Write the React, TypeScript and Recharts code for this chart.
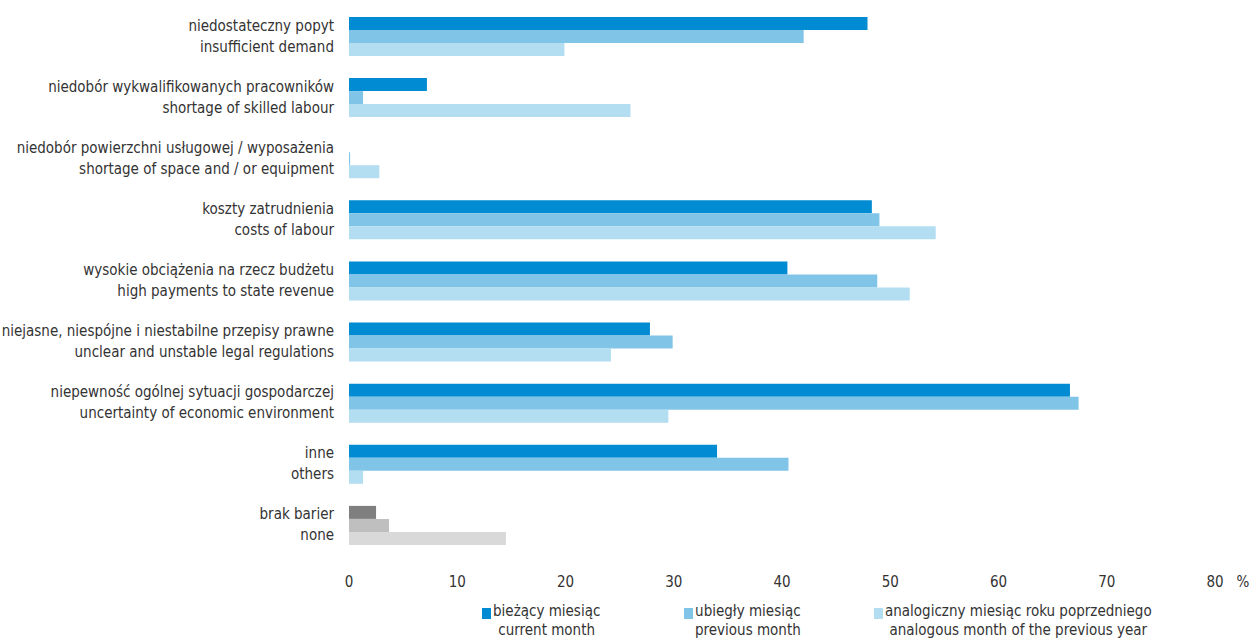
import React from "react";
import { BarChart, Bar, XAxis, YAxis, Legend, Cell } from "recharts";

const categoriesPl = [
  "niedostateczny popyt",
  "niedobór wykwalifikowanych pracowników",
  "niedobór powierzchni usługowej / wyposażenia",
  "koszty zatrudnienia",
  "wysokie obciążenia na rzecz budżetu",
  "niejasne, niespójne i niestabilne przepisy prawne",
  "niepewność ogólnej sytuacji gospodarczej",
  "inne",
  "brak barier",
];

const categoriesEn = [
  "insufficient demand",
  "shortage of skilled labour",
  "shortage of space and / or equipment",
  "costs of labour",
  "high payments to state revenue",
  "unclear and unstable legal regulations",
  "uncertainty of economic environment",
  "others",
  "none",
];

const currentMonth = [47.9, 7.2, 0, 48.3, 40.5, 27.8, 66.6, 34.0, 2.5];
const previousMonth = [42.0, 1.3, 0.1, 49.0, 48.8, 29.9, 67.4, 40.6, 3.7];
const yearAgoMonth = [19.9, 26.0, 2.8, 54.2, 51.8, 24.2, 29.5, 1.3, 14.5];

const xTicks = [0, 10, 20, 30, 40, 50, 60, 70, 80];

const seriesPl = ["bieżący miesiąc", "ubiegły miesiąc", "analogiczny miesiąc roku poprzedniego"];
const seriesEn = ["current month", "previous month", "analogous month of the previous year"];

const blues = ["#008bd2", "#80c4e8", "#b3ddf1"];
const grays = ["#7f7f7f", "#bfbfbf", "#d9d9d9"];

const FONT = "'Liberation Sans Narrow', 'DejaVu Sans Condensed', 'Roboto Condensed', sans-serif";
const TEXT = "#333333";

const data = categoriesPl.map((pl, i) => ({
  pl,
  en: categoriesEn[i],
  cur: currentMonth[i],
  prev: previousMonth[i],
  year: yearAgoMonth[i],
}));

const keys = ["cur", "prev", "year"];

function CategoryTick(props: any) {
  const { x, y, payload } = props;
  const i = payload.index ?? categoriesPl.indexOf(payload.value);
  return (
    <g>
      <text x={x - 13} y={y - 6} textAnchor="end" fontSize={15} fill={TEXT} fontFamily={FONT}>
        {categoriesPl[i]}
      </text>
      <text x={x - 13} y={y + 15} textAnchor="end" fontSize={15} fill={TEXT} fontFamily={FONT}>
        {categoriesEn[i]}
      </text>
    </g>
  );
}

function ValueTick(props: any) {
  const { x, y, payload } = props;
  return (
    <g>
      <text x={x} y={y} textAnchor="middle" dy="0.71em" fontSize={15} fill={TEXT} fontFamily={FONT}>
        {payload.value}
      </text>
      {payload.value === 80 && (
        <text x={x + 28} y={y} textAnchor="middle" dy="0.71em" fontSize={15} fill={TEXT} fontFamily={FONT}>
          %
        </text>
      )}
    </g>
  );
}

const legendLeft = [482, 684, 874];

function LegendBox() {
  return (
    <div style={{ position: "relative", width: 1252, height: 40, fontFamily: FONT, fontSize: 15, color: TEXT }}>
      {seriesPl.map((pl, i) => (
        <div
          key={pl}
          style={{ position: "absolute", left: legendLeft[i], top: 0, display: "flex", alignItems: "flex-start" }}
        >
          <div style={{ width: 9, height: 11, background: blues[i], marginTop: 6, marginRight: 2 }} />
          <div style={{ textAlign: "center", lineHeight: "19px" }}>
            <div>{pl}</div>
            <div>{seriesEn[i]}</div>
          </div>
        </div>
      ))}
    </div>
  );
}

export default function App() {
  return (
    <div style={{ position: "absolute", left: 0, top: 0, width: 1252, height: 641, background: "#fff" }}>
      <BarChart
        width={1252}
        height={641}
        data={data}
        layout="vertical"
        margin={{ top: 6, right: 37, bottom: 15, left: 0 }}
        barGap={0}
        barSize={13}
      >
        <XAxis
          type="number"
          domain={[0, 80]}
          ticks={xTicks}
          axisLine={false}
          tickLine={false}
          tickSize={0}
          tickMargin={20}
          height={30}
          tick={<ValueTick />}
          interval={0}
        />
        <YAxis
          type="category"
          dataKey="pl"
          width={349}
          axisLine={false}
          tickLine={false}
          tickSize={0}
          tick={<CategoryTick />}
          interval={0}
        />
        <Legend
          content={<LegendBox />}
          wrapperStyle={{ position: "absolute", left: 0, top: 602, width: 1252 }}
        />
        {keys.map((k, s) => (
          <Bar key={k} dataKey={k} fill={blues[s]} isAnimationActive={false}>
            {data.map((d, i) => (
              <Cell key={i} fill={i === data.length - 1 ? grays[s] : blues[s]} />
            ))}
          </Bar>
        ))}
      </BarChart>
    </div>
  );
}
